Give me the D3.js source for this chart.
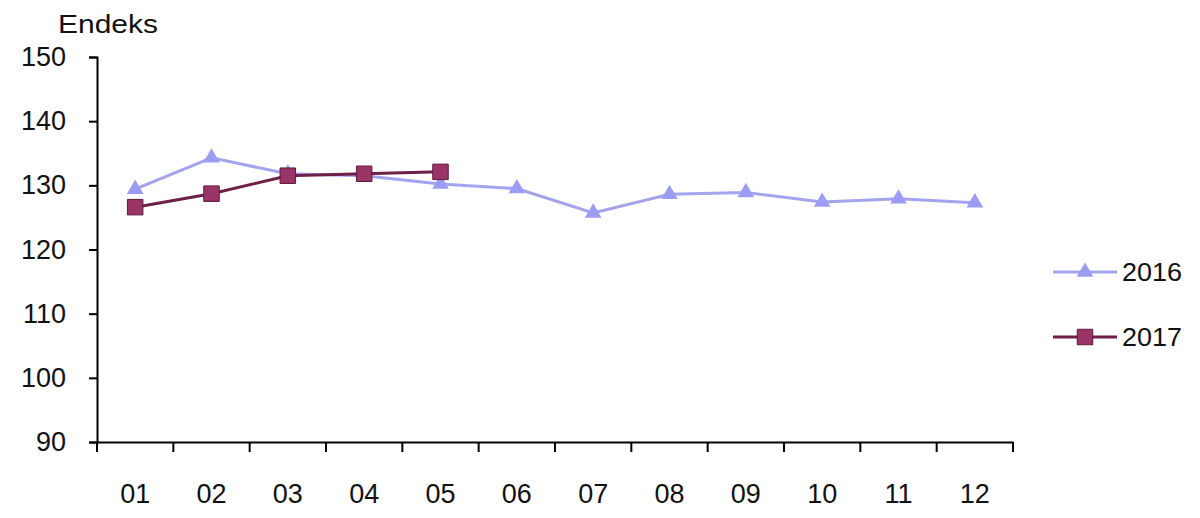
<!DOCTYPE html>
<html>
<head>
<meta charset="utf-8">
<script src="https://cdn.jsdelivr.net/npm/d3@7"></script>
<style>
  body { margin: 0; background: #fff; }
  svg text { font-family: "Liberation Sans", Arial, sans-serif; fill: #111; }
</style>
</head>
<body>
<svg id="chart" width="1200" height="518"></svg>
<script>
// Chart data
const months = ["01", "02", "03", "04", "05", "06", "07", "08", "09", "10", "11", "12"];
const values2016 = [129.4, 134.3, 131.8, 131.5, 130.2, 129.5, 125.7, 128.6, 128.9, 127.4, 127.9, 127.3];
const values2017 = [126.6, 128.7, 131.5, 131.8, 132.1];
const yTicks = [90, 100, 110, 120, 130, 140, 150];

const series = [
    { name: "2016", values: values2016, line: "#a3a3ee", fill: "#9c9cf4", symbol: d3.symbolTriangle, size: 120 },
    { name: "2017", values: values2017, line: "#6e2046", fill: "#9b3466", symbol: d3.symbolSquare, size: 240 }
];

const svg = d3.select("#chart");
const margin = { left: 97, right: 1013, top: 57, bottom: 442 };

const x = d3.scaleBand().domain(months).range([margin.left, margin.right]);
const y = d3.scaleLinear().domain([90, 150]).range([margin.bottom, margin.top]);

// Y axis
const yAxis = svg.append("g")
    .attr("transform", `translate(${margin.left},0)`)
    .call(d3.axisLeft(y).tickValues(yTicks).tickSize(8).tickPadding(23));
yAxis.select(".domain").attr("stroke", "#000").attr("stroke-width", 2);
yAxis.selectAll(".tick line").attr("stroke", "#000").attr("stroke-width", 2);
yAxis.selectAll("text").style("font-size", "27px").attr("fill", "#111");

// X axis: ticks at band edges
const xAxis = svg.append("g")
    .attr("transform", `translate(0,${margin.bottom})`)
    .call(d3.axisBottom(x).tickSize(0).tickPadding(0));
xAxis.select(".domain").attr("stroke", "#000").attr("stroke-width", 2);
xAxis.selectAll("text").style("font-size", "27px").attr("fill", "#111")
    .attr("y", 61).attr("dy", 0);
const edges = months.map(m => x(m)).concat([x.range()[1]]);
xAxis.selectAll(".edge").data(edges).join("line")
    .attr("x1", d => d).attr("x2", d => d)
    .attr("y1", 0).attr("y2", 10)
    .attr("stroke", "#000").attr("stroke-width", 2);

// Y axis title
svg.append("text").attr("x", 58).attr("y", 33)
    .style("font-size", "25px")
    .attr("textLength", 100).attr("lengthAdjust", "spacingAndGlyphs")
    .text("Endeks");

// Lines and markers
const cx = (d, i) => x(months[i]) + x.bandwidth() / 2;
const line = d3.line().x(cx).y(d => y(d));

series.forEach(s => {
    svg.append("path").datum(s.values)
        .attr("d", line)
        .attr("fill", "none")
        .attr("stroke", s.line)
        .attr("stroke-width", 3);
    svg.append("g").selectAll("path").data(s.values).join("path")
        .attr("transform", (d, i) => `translate(${cx(d, i)},${y(d)})`)
        .attr("d", d3.symbol(s.symbol, s.size))
        .attr("fill", s.fill)
        .attr("stroke", s.name === "2017" ? "#5e1a3c" : "none")
        .attr("stroke-width", 1);
});

// Legend
const legend = svg.append("g");
series.forEach((s, i) => {
    const ly = 272 + i * 65;
    legend.append("line")
        .attr("x1", 1053).attr("x2", 1117).attr("y1", ly).attr("y2", ly)
        .attr("stroke", s.line).attr("stroke-width", 3);
    legend.append("path")
        .attr("transform", `translate(1085,${ly})`)
        .attr("d", d3.symbol(s.symbol, s.size))
        .attr("fill", s.fill)
        .attr("stroke", s.name === "2017" ? "#5e1a3c" : "none");
    legend.append("text")
        .attr("x", 1122).attr("y", ly + 9)
        .style("font-size", "25px")
        .attr("textLength", 60).attr("lengthAdjust", "spacingAndGlyphs")
        .text(s.name);
});
</script>
</body>
</html>
